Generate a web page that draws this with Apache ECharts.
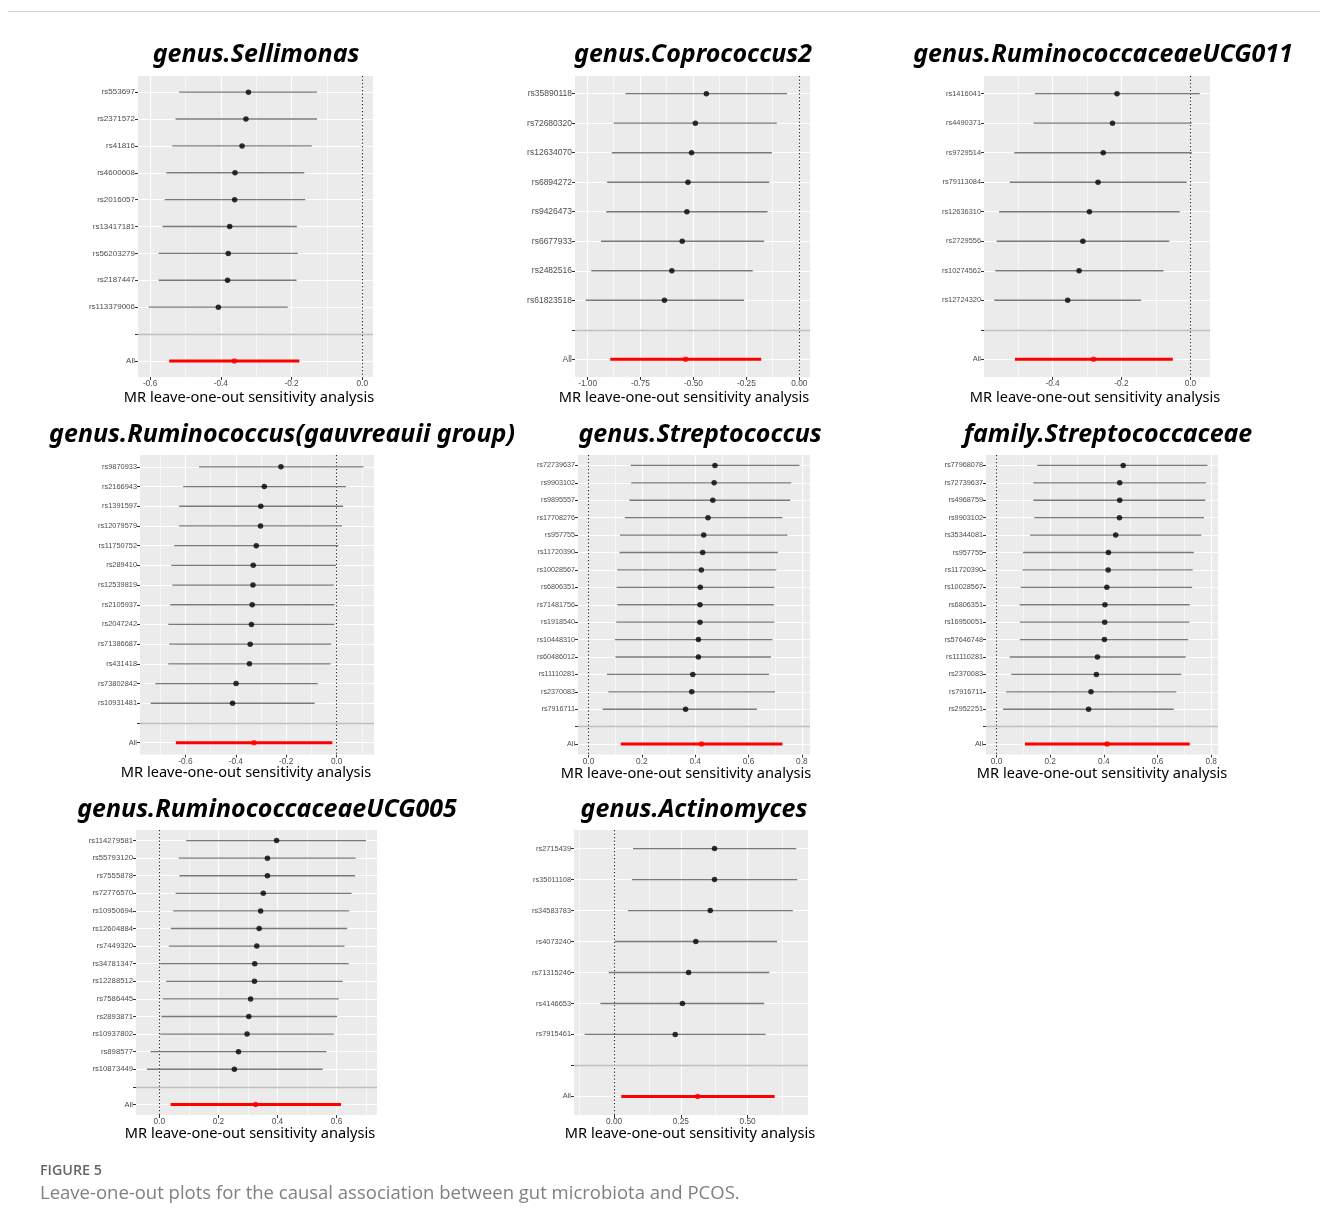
<!DOCTYPE html>
<html>
<head>
<meta charset="utf-8">
<script src="https://cdn.jsdelivr.net/npm/echarts@6/dist/echarts.min.js"></script>
<style>
html,body{margin:0;padding:0;background:#fff;}
#chart{width:1320px;height:1227px;}
</style>
</head>
<body>
<div id="chart"></div>
<script>
// ---- Panel titles ----
const panelTitles = [
  'genus.Sellimonas', 'genus.Coprococcus2', 'genus.RuminococcaceaeUCG011',
  'genus.Ruminococcus(gauvreauii group)', 'genus.Streptococcus', 'family.Streptococcaceae',
  'genus.RuminococcaceaeUCG005', 'genus.Actinomyces'
];
const axisTitle = 'MR leave-one-out sensitivity analysis';

// ---- genus.Sellimonas ----
const sellimonasSnps  = ['rs553697','rs2371572','rs41816','rs4600608','rs2016057','rs13417181','rs56203279','rs2187447','rs113379006'];
const sellimonasBeta  = [-0.322,-0.329,-0.340,-0.360,-0.361,-0.375,-0.379,-0.381,-0.407];
const sellimonasLower = [-0.518,-0.528,-0.537,-0.554,-0.559,-0.565,-0.576,-0.576,-0.604];
const sellimonasUpper = [-0.128,-0.128,-0.143,-0.164,-0.161,-0.185,-0.182,-0.186,-0.211];
const sellimonasAll   = [-0.362,-0.546,-0.178]; // beta, lower, upper
const sellimonasTicks = [-0.6,-0.4,-0.2,0.0];

// ---- genus.Coprococcus2 ----
const coprococcusSnps  = ['rs35890118','rs72680320','rs12634070','rs6894272','rs9426473','rs6677933','rs2482516','rs61823518'];
const coprococcusBeta  = [-0.439,-0.491,-0.509,-0.526,-0.531,-0.553,-0.602,-0.637];
const coprococcusLower = [-0.821,-0.877,-0.886,-0.908,-0.912,-0.937,-0.983,-1.009];
const coprococcusUpper = [-0.058,-0.106,-0.130,-0.142,-0.150,-0.166,-0.220,-0.261];
const coprococcusAll   = [-0.537,-0.893,-0.180];
const coprococcusTicks = [-1.0,-0.75,-0.5,-0.25,0.0];

// ---- genus.RuminococcaceaeUCG011 ----
const ucg011Snps  = ['rs1416041','rs4490371','rs9729514','rs79113084','rs12636310','rs2729556','rs10274562','rs12724320'];
const ucg011Beta  = [-0.213,-0.226,-0.253,-0.268,-0.293,-0.312,-0.323,-0.356];
const ucg011Lower = [-0.451,-0.455,-0.511,-0.524,-0.555,-0.562,-0.566,-0.569];
const ucg011Upper = [0.027,0.004,0.004,-0.011,-0.031,-0.061,-0.078,-0.143];
const ucg011All   = [-0.281,-0.509,-0.051];
const ucg011Ticks = [-0.6,-0.4,-0.2,0.0];

// ---- genus.Ruminococcus(gauvreauii group) ----
const gauvreauiiSnps  = ['rs9870933','rs2166943','rs1391597','rs12079579','rs11750752','rs289410','rs12539819','rs2105937','rs2047242','rs71386687','rs431418','rs73802842','rs10931481'];
const gauvreauiiBeta  = [-0.221,-0.287,-0.301,-0.302,-0.319,-0.331,-0.332,-0.335,-0.338,-0.343,-0.346,-0.399,-0.413];
const gauvreauiiLower = [-0.546,-0.609,-0.625,-0.625,-0.645,-0.656,-0.652,-0.660,-0.668,-0.664,-0.668,-0.719,-0.738];
const gauvreauiiUpper = [0.106,0.037,0.026,0.021,0.007,-0.003,-0.011,-0.009,-0.009,-0.021,-0.024,-0.075,-0.087];
const gauvreauiiAll   = [-0.328,-0.638,-0.017];
const gauvreauiiTicks = [-0.6,-0.4,-0.2,0.0];

// ---- genus.Streptococcus ----
const streptococcusSnps  = ['rs72739637','rs9903102','rs9895557','rs17708276','rs957755','rs11720390','rs10028567','rs6806351','rs71481756','rs1918540','rs10448310','rs60486012','rs11110281','rs2370083','rs7916711'];
const streptococcusBeta  = [0.474,0.471,0.466,0.448,0.432,0.428,0.423,0.419,0.418,0.418,0.412,0.412,0.391,0.387,0.364];
const streptococcusLower = [0.158,0.160,0.153,0.136,0.118,0.116,0.108,0.105,0.108,0.104,0.099,0.101,0.069,0.074,0.053];
const streptococcusUpper = [0.791,0.760,0.756,0.727,0.746,0.710,0.704,0.697,0.695,0.697,0.690,0.684,0.677,0.699,0.631];
const streptococcusAll   = [0.424,0.121,0.727];
const streptococcusTicks = [0.0,0.2,0.4,0.6,0.8];

// ---- family.Streptococcaceae ----
const streptococcaceaeSnps  = ['rs77968078','rs72739637','rs4968759','rs9903102','rs35344081','rs957755','rs11720390','rs10028567','rs6806351','rs16950051','rs57646748','rs11110281','rs2370083','rs7916711','rs2952251'];
const streptococcaceaeBeta  = [0.472,0.459,0.459,0.458,0.444,0.417,0.416,0.411,0.404,0.403,0.402,0.376,0.372,0.352,0.343];
const streptococcaceaeLower = [0.152,0.137,0.137,0.141,0.125,0.099,0.097,0.090,0.086,0.087,0.087,0.049,0.055,0.036,0.024];
const streptococcaceaeUpper = [0.786,0.780,0.778,0.773,0.763,0.735,0.731,0.729,0.720,0.719,0.714,0.705,0.689,0.670,0.660];
const streptococcaceaeAll   = [0.412,0.106,0.720];
const streptococcaceaeTicks = [0.0,0.2,0.4,0.6,0.8];

// ---- genus.RuminococcaceaeUCG005 ----
const ucg005Snps  = ['rs114279581','rs55793120','rs7555878','rs72776570','rs10950694','rs12604884','rs7449320','rs34781347','rs12288512','rs7586445','rs2893871','rs10937802','rs898577','rs10873449'];
const ucg005Beta  = [0.397,0.366,0.366,0.352,0.343,0.338,0.330,0.323,0.322,0.309,0.303,0.297,0.268,0.254];
const ucg005Lower = [0.091,0.066,0.068,0.055,0.047,0.039,0.032,0.003,0.023,0.011,0.007,0.003,-0.030,-0.042];
const ucg005Upper = [0.700,0.665,0.663,0.651,0.643,0.636,0.627,0.641,0.621,0.608,0.602,0.591,0.566,0.553];
const ucg005All   = [0.326,0.038,0.615];
const ucg005Ticks = [0.0,0.2,0.4,0.6];

// ---- genus.Actinomyces ----
const actinomycesSnps  = ['rs2715439','rs35011108','rs34583783','rs4073240','rs71315246','rs4146653','rs7915461'];
const actinomycesBeta  = [0.376,0.376,0.360,0.306,0.279,0.256,0.229];
const actinomycesLower = [0.071,0.067,0.052,0.003,-0.020,-0.051,-0.110];
const actinomycesUpper = [0.682,0.686,0.669,0.610,0.581,0.562,0.567];
const actinomycesAll   = [0.313,0.027,0.601];
const actinomycesTicks = [0.0,0.25,0.5];

// Panel contents, in reading order
const panelData = [
  [sellimonasSnps, sellimonasBeta, sellimonasLower, sellimonasUpper, sellimonasAll, sellimonasTicks, 1],
  [coprococcusSnps, coprococcusBeta, coprococcusLower, coprococcusUpper, coprococcusAll, coprococcusTicks, 2],
  [ucg011Snps, ucg011Beta, ucg011Lower, ucg011Upper, ucg011All, ucg011Ticks, 1],
  [gauvreauiiSnps, gauvreauiiBeta, gauvreauiiLower, gauvreauiiUpper, gauvreauiiAll, gauvreauiiTicks, 1],
  [streptococcusSnps, streptococcusBeta, streptococcusLower, streptococcusUpper, streptococcusAll, streptococcusTicks, 1],
  [streptococcaceaeSnps, streptococcaceaeBeta, streptococcaceaeLower, streptococcaceaeUpper, streptococcaceaeAll, streptococcaceaeTicks, 1],
  [ucg005Snps, ucg005Beta, ucg005Lower, ucg005Upper, ucg005All, ucg005Ticks, 1],
  [actinomycesSnps, actinomycesBeta, actinomycesLower, actinomycesUpper, actinomycesAll, actinomycesTicks, 2]
];

// ---- Layout: plotting rectangles, label sizes and text anchors ----
const panelRects = [
  {left:138, top:76,  width:235, height:301},
  {left:575, top:76,  width:235, height:301},
  {left:984, top:76,  width:226, height:301},
  {left:140, top:455, width:234, height:299.5},
  {left:578, top:455, width:232, height:299.5},
  {left:986, top:455, width:232, height:299.5},
  {left:136, top:830, width:241, height:285},
  {left:574, top:830, width:234, height:285}
];
const ylabelSizes = [8, 8.5, 7.4, 7.4, 7.2, 7.3, 7.7, 7.4];
const titleAnchors = [[256,55],[693,55],[1103,55],[282,435],[700,435],[1108,435],[267,810],[694,810]];
const axisTitleAnchors = [[249,397.5],[684,397.5],[1095,397.5],[246,773],[686,774],[1102,774],[250,1134],[690,1134]];

const BG = '#EBEBEB';
const TXT = '#4D4D4D';

const grids = [], xAxes = [], yAxes = [], series = [], graphics = [];

function whiteLine(width) {
  return {color:'#fff', width:width, type:'solid'};
}

panelData.forEach(function (p, i) {
  const [snps, beta, lower, upper, all, ticks, decimals] = p;
  const names = snps.concat(['', 'All']);
  const n = names.length;
  const blankIdx = snps.length;
  const allIdx = snps.length + 1;

  // continuous range: data + zero line, padded by 5% on each side
  const lo = Math.min(0, Math.min.apply(null, lower), all[1]);
  const hi = Math.max(0, Math.max.apply(null, upper), all[2]);
  const pad = (hi - lo) * 0.05;
  const xmin = lo - pad, xmax = hi + pad;

  // minor gridlines halfway between major breaks
  const step = ticks[1] - ticks[0];
  const minors = [];
  for (let k = -1; k < ticks.length; k++) {
    const m = ticks[0] + step * (k + 0.5);
    if (m > xmin && m < xmax) minors.push(+m.toFixed(4));
  }
  const slots = [];
  for (let k = 0; k < n; k++) slots.push(k);

  grids.push(Object.assign({show:true, backgroundColor:BG, borderWidth:0, containLabel:false, z:-1}, panelRects[i]));

  xAxes.push({
    type:'value', gridIndex:i, min:xmin, max:xmax, position:'bottom',
    axisLine:{show:false, onZero:false},
    axisTick:{show:true, length:3, customValues:ticks, lineStyle:{color:'#333', width:1}},
    axisLabel:{customValues:ticks, color:TXT, fontSize:8.3, fontFamily:'Liberation Sans, Arial, sans-serif', margin:3,
      formatter:function (v) { return Number(v).toFixed(decimals); }},
    splitLine:{show:false}
  });
  yAxes.push({
    type:'value', gridIndex:i, inverse:true, min:-0.6, max:n - 0.4,
    axisLine:{show:false, onZero:false},
    axisTick:{show:true, length:3, customValues:slots, lineStyle:{color:'#333', width:1}},
    axisLabel:{customValues:slots, color:TXT, fontSize:ylabelSizes[i], fontFamily:'Liberation Sans, Arial, sans-serif', margin:3,
      formatter:function (v) { return names[Math.round(v)] || ''; }},
    splitLine:{show:false}
  });

  // panel gridlines: minor and major verticals, one horizontal per row
  const gridLines = [];
  minors.forEach(function (m) { gridLines.push({xAxis:m, lineStyle:whiteLine(0.6)}); });
  ticks.forEach(function (t) { gridLines.push({xAxis:t, lineStyle:whiteLine(1.2)}); });
  slots.forEach(function (s) { gridLines.push({yAxis:s, lineStyle:whiteLine(1.2)}); });
  series.push({
    type:'scatter', xAxisIndex:i, yAxisIndex:i, z:1, silent:true, data:[],
    markLine:{z:1, silent:true, symbol:'none', label:{show:false}, animation:false, data:gridLines}
  });
  // zero reference (drawn beneath the intervals)
  series.push({
    type:'scatter', xAxisIndex:i, yAxisIndex:i, z:2, silent:true, data:[],
    markLine:{z:2, silent:true, symbol:'none', label:{show:false}, animation:false,
      data:[{xAxis:0, lineStyle:{color:'#222', width:1.1, type:[1.2, 2.3]}}]}
  });

  const barData = snps.map(function (s, k) { return [lower[k], upper[k], k, 0]; });
  barData.push([all[1], all[2], allIdx, 1]);
  const pointData = snps.map(function (s, k) { return {value:[beta[k], k], itemStyle:{color:'#000'}}; });
  pointData.push({value:[all[0], allIdx], itemStyle:{color:'#FF0000'}});

  // confidence intervals
  series.push({
    type:'custom', xAxisIndex:i, yAxisIndex:i, z:3, silent:true, clip:true,
    encode:{x:[0, 1], y:2},
    data:barData,
    renderItem:function (params, api) {
      const a = api.coord([api.value(0), api.value(2)]);
      const b = api.coord([api.value(1), api.value(2)]);
      const isAll = api.value(3) === 1;
      return {type:'line', shape:{x1:a[0], y1:a[1], x2:b[0], y2:b[1]},
        style:{stroke:isAll ? '#FF0000' : '#7A7A7A', lineWidth:isAll ? 3 : 1.3}};
    }
  });
  // point estimates and the separator above "All"
  series.push({
    type:'scatter', xAxisIndex:i, yAxisIndex:i, z:4, silent:true,
    symbol:'circle', symbolSize:5.5,
    data:pointData,
    markLine:{
      z:5, silent:true, symbol:'none', label:{show:false}, animation:false,
      data:[{yAxis:blankIdx, lineStyle:{color:'#BEBEBE', width:1.3, type:'solid'}}]
    }
  });

  graphics.push({
    type:'text', x:titleAnchors[i][0], y:titleAnchors[i][1], silent:true,
    style:{text:panelTitles[i], fill:'#000', align:'center', verticalAlign:'middle',
      font:'italic bold 25px "Noto Sans", sans-serif'}
  });
  graphics.push({
    type:'text', x:axisTitleAnchors[i][0], y:axisTitleAnchors[i][1], silent:true,
    style:{text:axisTitle, fill:'#000', align:'center', verticalAlign:'middle',
      font:'14.6px "Noto Sans", sans-serif'}
  });
});

// frame rule and figure caption
graphics.push({type:'line', silent:true, shape:{x1:8, y1:11.5, x2:1320, y2:11.5}, style:{stroke:'#D0D0D0', lineWidth:1.2}});
graphics.push({type:'text', x:40, y:1171, silent:true,
  style:{text:'FIGURE 5', fill:'#666', align:'left', verticalAlign:'middle', font:'600 14.3px "Open Sans", sans-serif'}});
graphics.push({type:'text', x:40, y:1194, silent:true,
  style:{text:'Leave-one-out plots for the causal association between gut microbiota and PCOS.', fill:'#808080', align:'left', verticalAlign:'middle', font:'18.5px "Open Sans", sans-serif'}});

const chart = echarts.init(document.getElementById('chart'), null, {renderer:'canvas'});
chart.setOption({
  animation:false,
  backgroundColor:'#fff',
  grid:grids,
  xAxis:xAxes,
  yAxis:yAxes,
  series:series,
  graphic:graphics
});
</script>
</body>
</html>
